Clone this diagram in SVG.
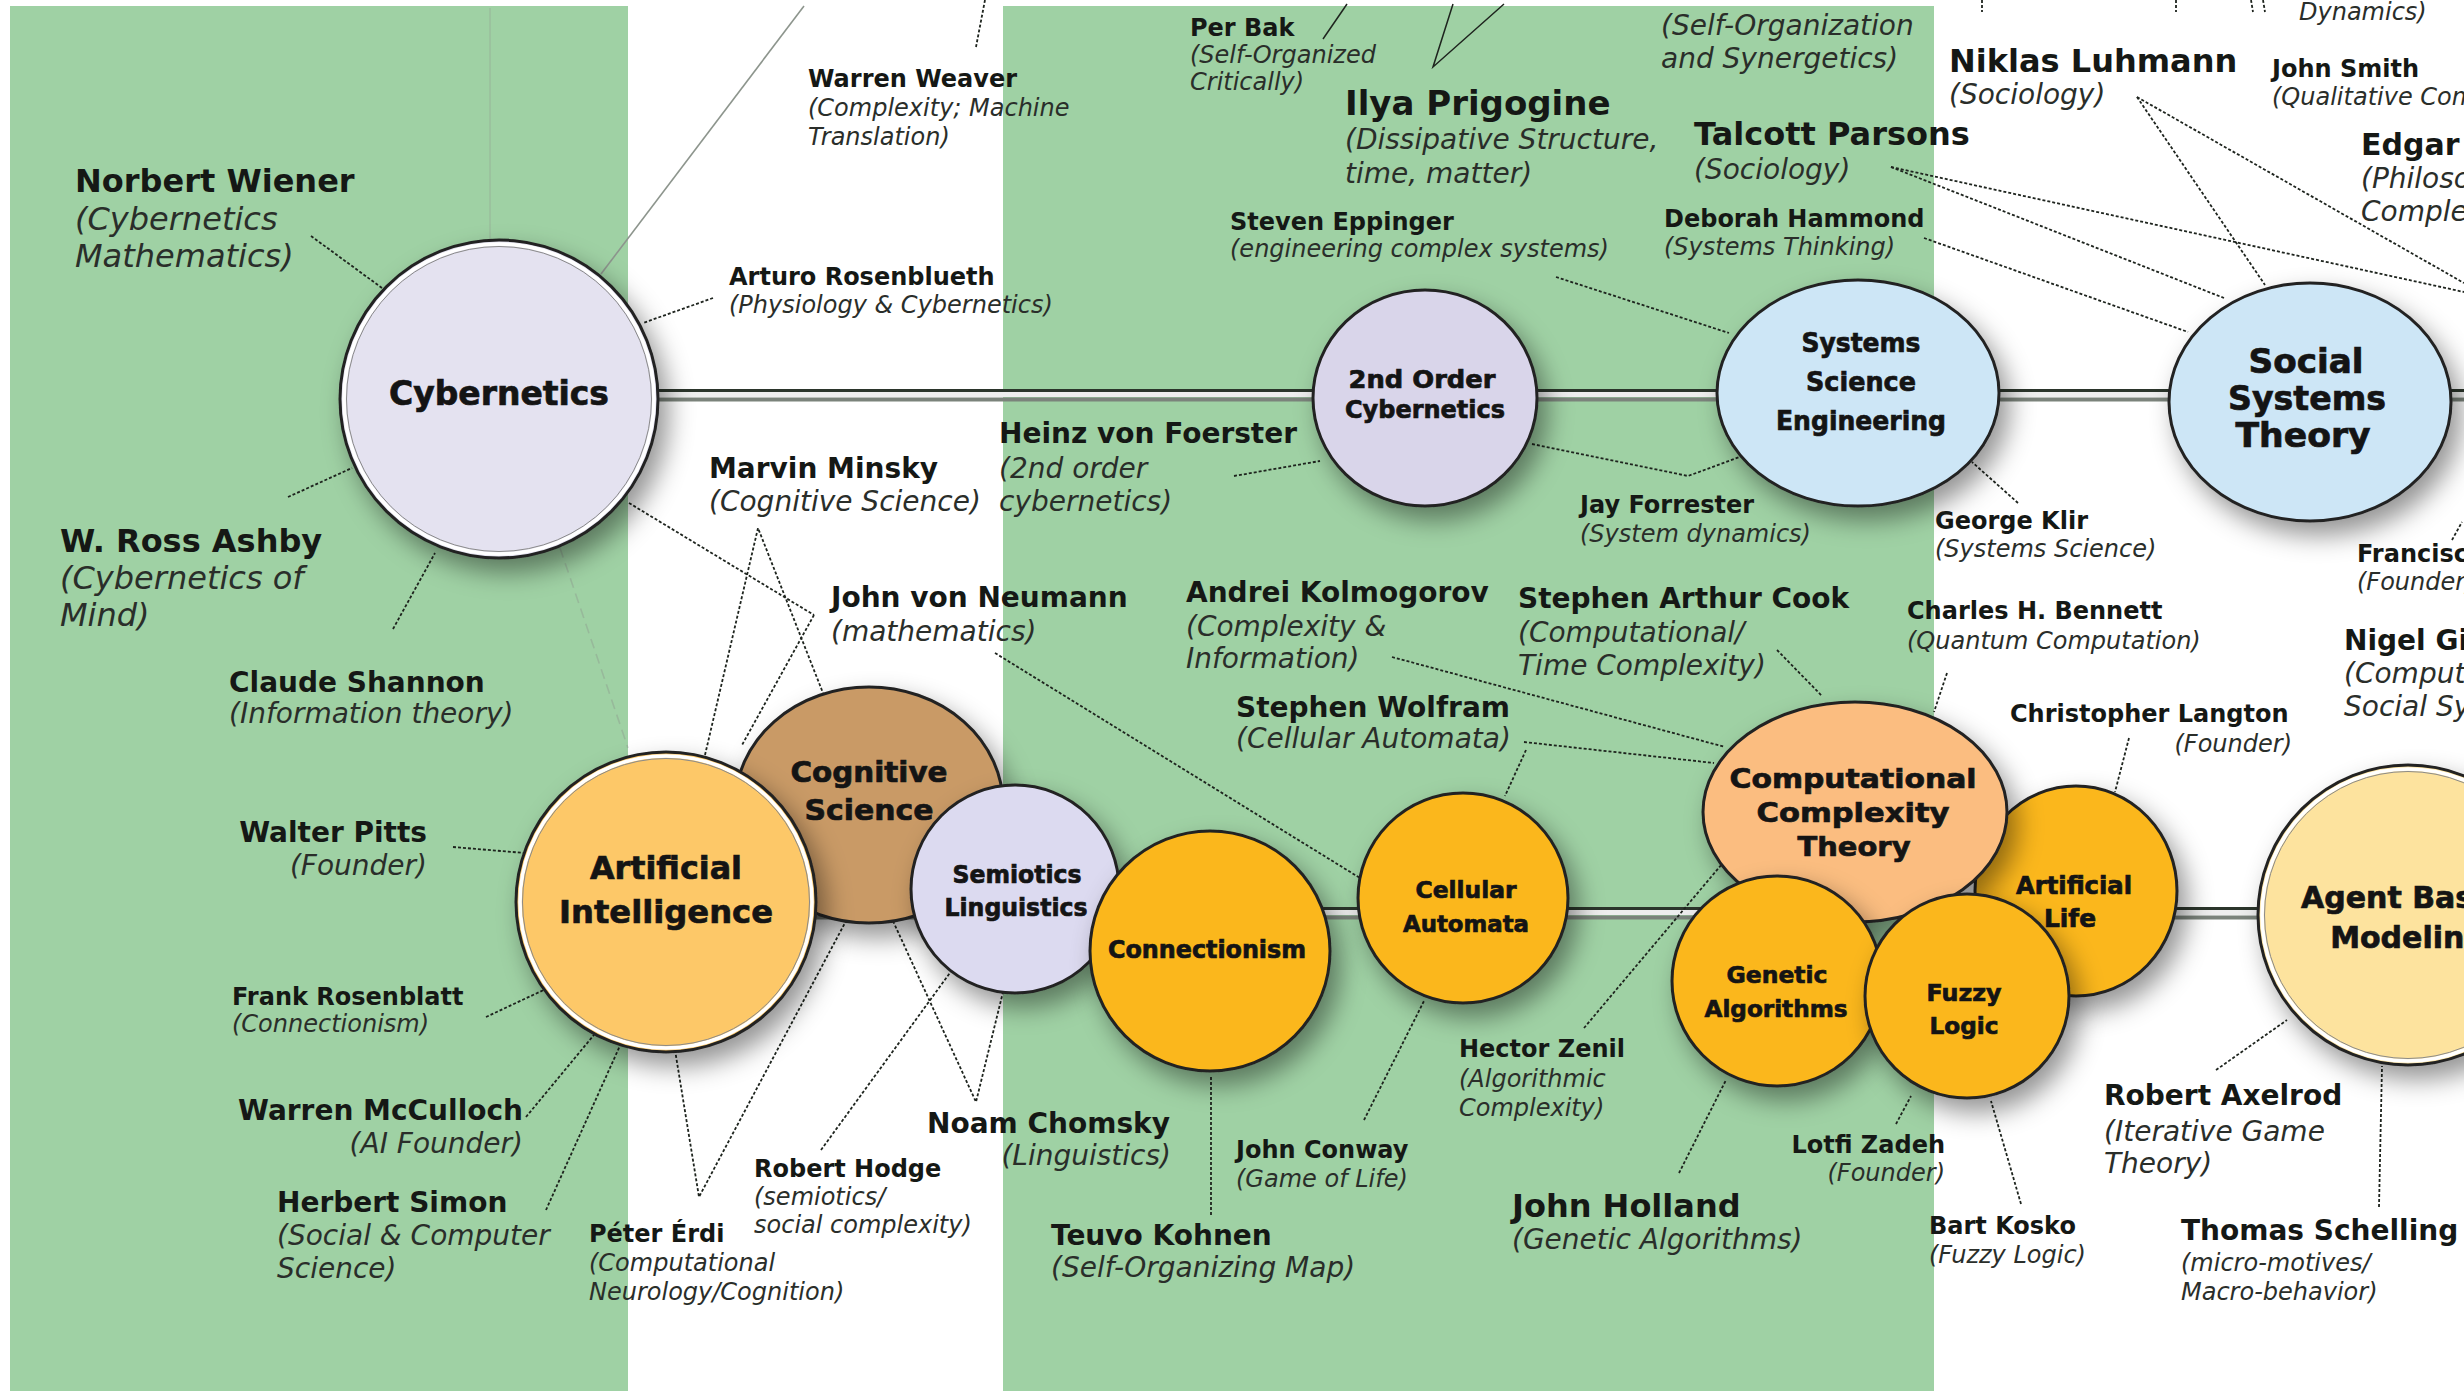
<svg xmlns="http://www.w3.org/2000/svg" width="2464" height="1394" viewBox="0 0 2464 1394">
<defs>
<style>
.n{font-family:"DejaVu Sans",Verdana,sans-serif;font-weight:bold;fill:#151815}
.d{font-family:"DejaVu Sans",Verdana,sans-serif;font-style:italic;fill:#2a2e2a}
.XL{font-size:34px}.L{font-size:32px}.M{font-size:28px}.S{font-size:24px}
.e{text-anchor:end}
.lab{font-family:"DejaVu Sans",Verdana,sans-serif;font-weight:bold;fill:#141414;stroke:#141414;stroke-width:0.7;text-anchor:middle}
.dl{fill:none;stroke:#1e241e;stroke-width:1.8;stroke-dasharray:3 2}
.sl{fill:none;stroke:#1e241e;stroke-width:1.5}
.fl{fill:none;stroke:#8d958d;stroke-width:1.6}
.nd{stroke:#222;stroke-width:3}
.ring{fill:none;stroke:#fff;stroke-width:3.5}
.ring2{fill:none;stroke:#8a8a8a;stroke-width:1}
.rd{stroke:#2b352b;stroke-width:3}
.rw{stroke:#eeeeee;stroke-width:5}
.rg{stroke:#7b837b;stroke-width:4}
</style>
<filter id="sh" x="-30%" y="-30%" width="170%" height="170%">
<feDropShadow dx="9" dy="13" stdDeviation="13" flood-color="#000" flood-opacity="0.42"/>
</filter>
</defs>

<!-- background and field bands -->
<rect width="2464" height="1394" fill="#fff"/>
<rect x="10" y="6" width="618" height="1385" fill="#9fd1a4"/>
<rect x="1003" y="6" width="931" height="1385" fill="#9fd1a4"/>

<!-- faint background guide lines -->
<g id="faint">
<line class="fl" x1="804" y1="6" x2="601" y2="274"/>
<line class="fl" x1="490" y1="8" x2="490" y2="240" opacity="0.3"/>
<line class="fl" x1="560" y1="548" x2="628" y2="748" opacity="0.4" stroke-dasharray="10 6"/>
</g>

<!-- timeline rails -->
<g id="rails">
<line class="rd" x1="650" y1="390.5" x2="2464" y2="390.5"/>
<line class="rw" x1="650" y1="394.5" x2="2464" y2="394.5"/>
<line class="rg" x1="650" y1="399.5" x2="2464" y2="399.5"/>
<line class="rd" x1="810" y1="908.5" x2="2464" y2="908.5"/>
<line class="rw" x1="810" y1="912.5" x2="2464" y2="912.5"/>
<line class="rg" x1="810" y1="917.5" x2="2464" y2="917.5"/>
</g>

<!-- connectors -->
<g id="connectors">
<line class="dl" x1="311" y1="236" x2="382" y2="288"/>
<line class="dl" x1="288" y1="497" x2="352" y2="468"/>
<line class="dl" x1="393" y1="629" x2="435" y2="553"/>
<line class="dl" x1="713" y1="298" x2="643" y2="323"/>
<line class="dl" x1="985" y1="0" x2="976" y2="47"/>
<polyline class="dl" points="705,755 758,528 823,693"/>
<line class="dl" x1="629" y1="503" x2="814" y2="615"/>
<line class="dl" x1="814" y1="615" x2="742" y2="745"/>
<line class="dl" x1="995" y1="653" x2="1360" y2="878"/>
<line class="dl" x1="1234" y1="476" x2="1320" y2="461"/>
<polyline class="dl" points="1532,444 1688,476 1745,455"/>
<line class="dl" x1="1556" y1="277" x2="1729" y2="333"/>
<line class="dl" x1="1924" y1="238" x2="2188" y2="332"/>
<line class="dl" x1="1891" y1="167" x2="2224" y2="298"/>
<line class="dl" x1="1891" y1="167" x2="2464" y2="292"/>
<line class="dl" x1="2137" y1="97" x2="2265" y2="285"/>
<line class="dl" x1="2137" y1="97" x2="2464" y2="283"/>
<line class="dl" x1="2018" y1="503" x2="1972" y2="462"/>
<line class="dl" x1="2452" y1="540" x2="2462" y2="522"/>
<line class="dl" x1="1947" y1="673" x2="1934" y2="712"/>
<line class="dl" x1="2129" y1="738" x2="2115" y2="792"/>
<line class="dl" x1="1777" y1="650" x2="1822" y2="696"/>
<line class="dl" x1="1392" y1="657" x2="1725" y2="747"/>
<line class="dl" x1="1524" y1="742" x2="1714" y2="763"/>
<line class="dl" x1="1526" y1="750" x2="1505" y2="796"/>
<line class="dl" x1="1584" y1="1028" x2="1722" y2="864"/>
<line class="dl" x1="1364" y1="1120" x2="1424" y2="1001"/>
<line class="dl" x1="1211" y1="1077" x2="1211" y2="1217"/>
<line class="dl" x1="1679" y1="1173" x2="1726" y2="1080"/>
<line class="dl" x1="1896" y1="1124" x2="1911" y2="1096"/>
<line class="dl" x1="2021" y1="1204" x2="1991" y2="1101"/>
<line class="dl" x1="2216" y1="1070" x2="2287" y2="1020"/>
<line class="dl" x1="2379" y1="1207" x2="2382" y2="1066"/>
<polyline class="dl" points="893,921 976,1102 1003,992"/>
<line class="dl" x1="821" y1="1150" x2="952" y2="970"/>
<polyline class="dl" points="675,1050 699,1197 846,921"/>
<line class="dl" x1="486" y1="1017" x2="548" y2="988"/>
<line class="dl" x1="526" y1="1117" x2="598" y2="1030"/>
<line class="dl" x1="546" y1="1210" x2="623" y2="1039"/>
<line class="dl" x1="453" y1="847" x2="525" y2="853"/>
<line class="dl" x1="1982" y1="0" x2="1982" y2="12"/>
<line class="dl" x1="2176" y1="0" x2="2176" y2="12"/>
<line class="dl" x1="2251" y1="0" x2="2253" y2="12"/>
<line class="dl" x1="2263" y1="0" x2="2265" y2="12"/>
<line class="sl" x1="1347" y1="4" x2="1323" y2="39"/>
<polyline class="sl" points="1453,4 1433,67 1504,4"/>
</g>

<!-- field nodes -->
<g id="node-cybernetics">
<circle class="nd" cx="499" cy="399" r="159" fill="#e4e2f0" filter="url(#sh)"/>
<circle class="ring" cx="499" cy="399" r="155"/>
<circle class="ring2" cx="499" cy="399" r="152.5"/>
<text class="lab" x="499" y="405" font-size="33" textLength="220" lengthAdjust="spacingAndGlyphs">Cybernetics</text>
</g>
<g id="node-2nd-order">
<ellipse class="nd" cx="1425" cy="398" rx="112" ry="108" fill="#d9d5ea" filter="url(#sh)"/>
<text class="lab" x="1422" y="388" font-size="25" textLength="147" lengthAdjust="spacingAndGlyphs">2nd Order</text>
<text class="lab" x="1425" y="418" font-size="25" textLength="160" lengthAdjust="spacingAndGlyphs">Cybernetics</text>
</g>
<g id="node-systems-science">
<ellipse class="nd" cx="1858" cy="393" rx="141" ry="113" fill="#cde6f6" filter="url(#sh)"/>
<text class="lab" x="1861" y="352" font-size="27" textLength="119" lengthAdjust="spacingAndGlyphs">Systems</text>
<text class="lab" x="1861" y="391" font-size="27" textLength="110" lengthAdjust="spacingAndGlyphs">Science</text>
<text class="lab" x="1861" y="430" font-size="27" textLength="170" lengthAdjust="spacingAndGlyphs">Engineering</text>
</g>
<g id="node-social-systems">
<ellipse class="nd" cx="2310" cy="402" rx="141" ry="119" fill="#cde6f6" filter="url(#sh)"/>
<text class="lab" x="2306" y="373" font-size="33" textLength="115" lengthAdjust="spacingAndGlyphs">Social</text>
<text class="lab" x="2307" y="410" font-size="33" textLength="158" lengthAdjust="spacingAndGlyphs">Systems</text>
<text class="lab" x="2303" y="447" font-size="33" textLength="135" lengthAdjust="spacingAndGlyphs">Theory</text>
</g>
<g id="node-cognitive-science">
<ellipse class="nd" cx="869" cy="805" rx="134" ry="118" fill="#c99a66" filter="url(#sh)"/>
<text class="lab" x="869" y="782" font-size="29" textLength="157" lengthAdjust="spacingAndGlyphs">Cognitive</text>
<text class="lab" x="869" y="820" font-size="29" textLength="129" lengthAdjust="spacingAndGlyphs">Science</text>
</g>
<g id="node-artificial-intelligence">
<circle class="nd" cx="666" cy="902" r="150" fill="#fdc867" filter="url(#sh)"/>
<circle class="ring" cx="666" cy="902" r="146"/>
<circle class="ring2" cx="666" cy="902" r="143.5"/>
<text class="lab" x="666" y="879" font-size="32" textLength="152" lengthAdjust="spacingAndGlyphs">Artificial</text>
<text class="lab" x="666" y="923" font-size="32" textLength="214" lengthAdjust="spacingAndGlyphs">Intelligence</text>
</g>
<g id="node-semiotics">
<circle class="nd" cx="1015" cy="889" r="104" fill="#dcdaf0" filter="url(#sh)"/>
<text class="lab" x="1017" y="883" font-size="24" textLength="129" lengthAdjust="spacingAndGlyphs">Semiotics</text>
<text class="lab" x="1016" y="916" font-size="24" textLength="143" lengthAdjust="spacingAndGlyphs">Linguistics</text>
</g>
<g id="node-connectionism">
<circle class="nd" cx="1210" cy="951" r="120" fill="#fbb71a" filter="url(#sh)"/>
<text class="lab" x="1207" y="958" font-size="24" textLength="198" lengthAdjust="spacingAndGlyphs">Connectionism</text>
</g>
<g id="node-cellular-automata">
<circle class="nd" cx="1463" cy="898" r="105" fill="#fbb71a" filter="url(#sh)"/>
<text class="lab" x="1466" y="898" font-size="23" textLength="101" lengthAdjust="spacingAndGlyphs">Cellular</text>
<text class="lab" x="1466" y="932" font-size="23" textLength="126" lengthAdjust="spacingAndGlyphs">Automata</text>
</g>
<g id="node-artificial-life">
<ellipse class="nd" cx="2076" cy="891" rx="101" ry="105" fill="#fbb71a" filter="url(#sh)"/>
<text class="lab" x="2074" y="894" font-size="24" textLength="116" lengthAdjust="spacingAndGlyphs">Artificial</text>
<text class="lab" x="2070" y="927" font-size="24" textLength="52" lengthAdjust="spacingAndGlyphs">Life</text>
</g>
<g id="node-computational-complexity">
<ellipse class="nd" cx="1855" cy="812" rx="152" ry="110" fill="#fbbd80" filter="url(#sh)"/>
<text class="lab" x="1853" y="788" font-size="27" textLength="247" lengthAdjust="spacingAndGlyphs">Computational</text>
<text class="lab" x="1853" y="822" font-size="27" textLength="193" lengthAdjust="spacingAndGlyphs">Complexity</text>
<text class="lab" x="1854" y="856" font-size="27" textLength="113" lengthAdjust="spacingAndGlyphs">Theory</text>
</g>
<g id="node-genetic-algorithms">
<circle class="nd" cx="1777" cy="981" r="105" fill="#fbb71a" filter="url(#sh)"/>
<text class="lab" x="1777" y="983" font-size="23.5" textLength="101" lengthAdjust="spacingAndGlyphs">Genetic</text>
<text class="lab" x="1776" y="1017" font-size="23.5" textLength="143" lengthAdjust="spacingAndGlyphs">Algorithms</text>
</g>
<g id="node-fuzzy-logic">
<circle class="nd" cx="1967" cy="996" r="102" fill="#fbb71a" filter="url(#sh)"/>
<text class="lab" x="1964" y="1001" font-size="23.5" textLength="75" lengthAdjust="spacingAndGlyphs">Fuzzy</text>
<text class="lab" x="1964" y="1034" font-size="23.5" textLength="69" lengthAdjust="spacingAndGlyphs">Logic</text>
</g>
<g id="node-agent-based">
<circle class="nd" cx="2408" cy="915" r="150" fill="#fde39e" filter="url(#sh)"/>
<circle class="ring" cx="2408" cy="915" r="146"/>
<circle class="ring2" cx="2408" cy="915" r="143.5"/>
<text class="lab" x="2408" y="908" font-size="30">Agent Based</text>
<text class="lab" x="2408" y="948" font-size="30">Modeling</text>
</g>

<!-- people -->
<g id="p-wiener"><text class="n L" x="75" y="192">Norbert Wiener</text><text class="d L" x="75" y="230">(Cybernetics</text><text class="d L" x="75" y="267">Mathematics)</text></g>
<g id="p-ashby"><text class="n L" x="60" y="552">W. Ross Ashby</text><text class="d L" x="60" y="589">(Cybernetics of</text><text class="d L" x="60" y="626">Mind)</text></g>
<g id="p-shannon"><text class="n M" x="229" y="692">Claude Shannon</text><text class="d M" x="229" y="723">(Information theory)</text></g>
<g id="p-pitts"><text class="n M e" x="427" y="842">Walter Pitts</text><text class="d M e" x="427" y="875">(Founder)</text></g>
<g id="p-rosenblatt"><text class="n S" x="232" y="1005">Frank Rosenblatt</text><text class="d S" x="232" y="1032">(Connectionism)</text></g>
<g id="p-mcculloch"><text class="n M e" x="523" y="1120">Warren McCulloch</text><text class="d M e" x="523" y="1153">(AI Founder)</text></g>
<g id="p-simon"><text class="n M" x="277" y="1212">Herbert Simon</text><text class="d M" x="277" y="1245">(Social &amp; Computer</text><text class="d M" x="277" y="1278">Science)</text></g>
<g id="p-weaver"><text class="n S" x="808" y="87">Warren Weaver</text><text class="d S" x="808" y="116">(Complexity; Machine</text><text class="d S" x="808" y="145">Translation)</text></g>
<g id="p-rosenblueth"><text class="n S" x="729" y="285">Arturo Rosenblueth</text><text class="d S" x="729" y="313">(Physiology &amp; Cybernetics)</text></g>
<g id="p-minsky"><text class="n M" x="709" y="478">Marvin Minsky</text><text class="d M" x="709" y="511">(Cognitive Science)</text></g>
<g id="p-foerster"><text class="n M" x="999" y="443">Heinz von Foerster</text><text class="d M" x="999" y="478">(2nd order</text><text class="d M" x="999" y="511">cybernetics)</text></g>
<g id="p-neumann"><text class="n M" x="831" y="607">John von Neumann</text><text class="d M" x="831" y="641">(mathematics)</text></g>
<g id="p-chomsky"><text class="n M" x="927" y="1133">Noam Chomsky</text><text class="d M e" x="1171" y="1165">(Linguistics)</text></g>
<g id="p-hodge"><text class="n S" x="754" y="1177">Robert Hodge</text><text class="d S" x="754" y="1205">(semiotics/</text><text class="d S" x="754" y="1233">social complexity)</text></g>
<g id="p-erdi"><text class="n S" x="589" y="1242">Péter Érdi</text><text class="d S" x="589" y="1271">(Computational</text><text class="d S" x="589" y="1300">Neurology/Cognition)</text></g>
<g id="p-bak"><text class="n S" x="1190" y="36">Per Bak</text><text class="d S" x="1190" y="63">(Self-Organized</text><text class="d S" x="1190" y="90">Critically)</text></g>
<g id="p-synergetics"><text class="d M" x="1661" y="35">(Self-Organization</text><text class="d M" x="1661" y="68">and Synergetics)</text></g>
<g id="p-prigogine"><text class="n XL" x="1345" y="115">Ilya Prigogine</text><text class="d M" x="1345" y="149">(Dissipative Structure,</text><text class="d M" x="1345" y="183">time, matter)</text></g>
<g id="p-eppinger"><text class="n S" x="1230" y="230">Steven Eppinger</text><text class="d S" x="1230" y="257">(engineering complex systems)</text></g>
<g id="p-parsons"><text class="n L" x="1694" y="145">Talcott Parsons</text><text class="d M" x="1694" y="179">(Sociology)</text></g>
<g id="p-hammond"><text class="n S" x="1664" y="227">Deborah Hammond</text><text class="d S" x="1664" y="255">(Systems Thinking)</text></g>
<g id="p-luhmann"><text class="n L" x="1949" y="72">Niklas Luhmann</text><text class="d M" x="1949" y="104">(Sociology)</text></g>
<g id="p-smith"><text class="n S" x="2272" y="77">John Smith</text><text class="d S" x="2272" y="105">(Qualitative Complexity)</text></g>
<g id="p-morin"><text class="n" font-size="30" x="2361" y="155">Edgar Morin</text><text class="d M" x="2361" y="188">(Philosophy of</text><text class="d M" x="2361" y="221">Complexity)</text></g>
<g id="p-varela"><text class="n S" x="2357" y="562">Francisco Varela</text><text class="d S" x="2357" y="590">(Founder)</text></g>
<g id="p-gilbert"><text class="n M" x="2344" y="650">Nigel Gilbert</text><text class="d M" x="2344" y="683">(Computational</text><text class="d M" x="2344" y="716">Social Systems)</text></g>
<g id="p-klir"><text class="n S" x="1935" y="529">George Klir</text><text class="d S" x="1935" y="557">(Systems Science)</text></g>
<g id="p-forrester"><text class="n S" x="1580" y="513">Jay Forrester</text><text class="d S" x="1580" y="542">(System dynamics)</text></g>
<g id="p-bennett"><text class="n S" x="1907" y="619">Charles H. Bennett</text><text class="d S" x="1907" y="649">(Quantum Computation)</text></g>
<g id="p-langton"><text class="n S" x="2010" y="722">Christopher Langton</text><text class="d S e" x="2292" y="752">(Founder)</text></g>
<g id="p-kolmogorov"><text class="n M" x="1186" y="602">Andrei Kolmogorov</text><text class="d M" x="1186" y="636">(Complexity &amp;</text><text class="d M" x="1186" y="668">Information)</text></g>
<g id="p-cook"><text class="n M" x="1518" y="608">Stephen Arthur Cook</text><text class="d M" x="1518" y="642">(Computational/</text><text class="d M" x="1518" y="675">Time Complexity)</text></g>
<g id="p-wolfram"><text class="n M" x="1236" y="717">Stephen Wolfram</text><text class="d M" x="1236" y="748">(Cellular Automata)</text></g>
<g id="p-zenil"><text class="n S" x="1459" y="1057">Hector Zenil</text><text class="d S" x="1459" y="1087">(Algorithmic</text><text class="d S" x="1459" y="1116">Complexity)</text></g>
<g id="p-conway"><text class="n S" x="1236" y="1158">John Conway</text><text class="d S" x="1236" y="1187">(Game of Life)</text></g>
<g id="p-kohnen"><text class="n M" x="1051" y="1245">Teuvo Kohnen</text><text class="d M" x="1051" y="1277">(Self-Organizing Map)</text></g>
<g id="p-holland"><text class="n L" x="1512" y="1217">John Holland</text><text class="d M" x="1512" y="1249">(Genetic Algorithms)</text></g>
<g id="p-zadeh"><text class="n S e" x="1945" y="1153">Lotfi Zadeh</text><text class="d S e" x="1945" y="1181">(Founder)</text></g>
<g id="p-kosko"><text class="n S" x="1929" y="1234">Bart Kosko</text><text class="d S" x="1929" y="1263">(Fuzzy Logic)</text></g>
<g id="p-axelrod"><text class="n M" x="2104" y="1105">Robert Axelrod</text><text class="d M" x="2104" y="1141">(Iterative Game</text><text class="d M" x="2104" y="1173">Theory)</text></g>
<g id="p-schelling"><text class="n M" x="2181" y="1240">Thomas Schelling</text><text class="d S" x="2181" y="1271">(micro-motives/</text><text class="d S" x="2181" y="1300">Macro-behavior)</text></g>
<g id="p-dynamics"><text class="d S" x="2299" y="20">Dynamics)</text></g>
</svg>
